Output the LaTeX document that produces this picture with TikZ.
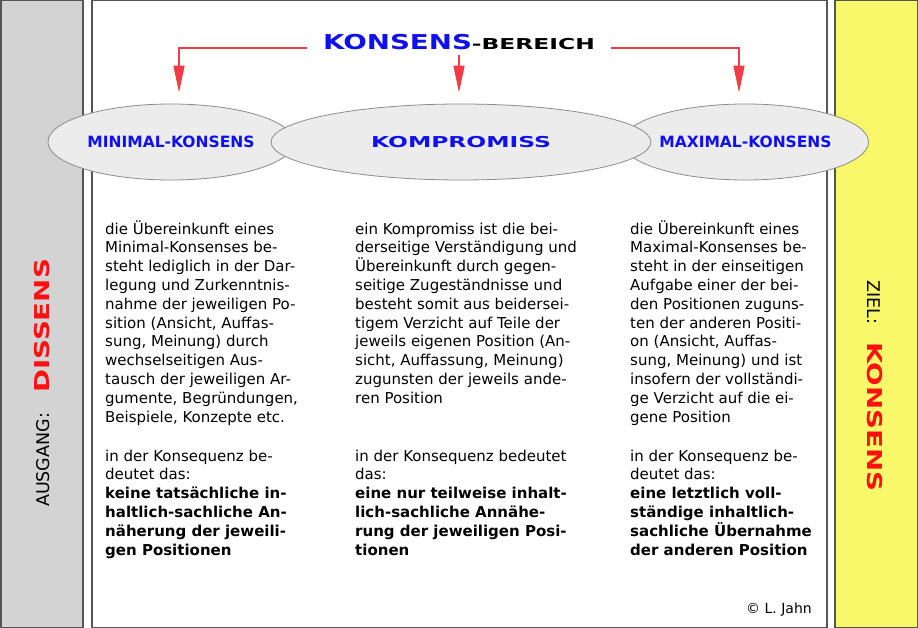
\documentclass[tikz,border=0pt]{standalone}
\usepackage{fontspec}
\setmainfont{DejaVu Sans}
\newfontfamily\breitfont[FakeStretch=1.35]{DejaVu Sans}
\newfontfamily\extrabreitfont[FakeStretch=1.56]{DejaVu Sans}
\usetikzlibrary{positioning,arrows.meta,shapes.geometric}
\definecolor{rahmen}{HTML}{555555}
\definecolor{grau}{HTML}{D3D3D3}
\definecolor{gelb}{HTML}{F8F86A}
\definecolor{ovalbg}{HTML}{ECECEC}
\definecolor{ovalrand}{HTML}{8C8C8C}
\definecolor{blau}{HTML}{1010EE}
\definecolor{signalrot}{HTML}{FF1010}
\definecolor{pfeilrot}{HTML}{F03C46}

\begin{document}
\begin{tikzpicture}[
    x=1pt,y=-1pt,
    >={Triangle[length=27pt,width=11pt]},
    balken/.style={draw=rahmen,line width=1.5pt},
    oval/.style={
        ellipse,
        draw=ovalrand,
        fill=ovalbg,
        line width=0.8pt,
        minimum height=76pt,
        inner sep=0pt,
        text=blau,
    },
    ovaltext/.style={font=\fontsize{15.5}{18}\selectfont\bfseries},
    fliess/.style={anchor=base west,align=left,inner sep=0pt,font=\fontsize{15}{18.8}\selectfont},
    seite/.style={font=\fontsize{17.5}{20}\selectfont,inner sep=0pt},
    pfeil/.style={->,draw=pfeilrot,line width=1.5pt,shorten >=11pt},
]
\useasboundingbox (0,0) rectangle (918,628);

% === Bars and main box ===
\filldraw[balken,fill=grau] (0.75,0.75) rectangle (83,627.25);
\filldraw[balken,fill=white] (92,0.75) rectangle (827,627.25);
\filldraw[balken,fill=gelb] (835,0.75) rectangle (917.25,627.25);

% === Side labels ===
\node[seite,rotate=90] (ausgang) at (42,383) {AUSGANG:\hspace*{20pt}{\breitfont\bfseries\fontsize{20.5}{24}\selectfont\color{signalrot}DISSENS}};
\node[seite,rotate=-90] (ziel) at (875,386) {ZIEL:\hspace*{18pt}{\breitfont\bfseries\fontsize{20.5}{24}\selectfont\color{signalrot}KONSENS}};

% === Title ===
\node[anchor=base,inner xsep=16pt,inner ysep=5pt] (title) at (459,50)
    {{\breitfont\bfseries\fontsize{20.5}{24}\selectfont\color{blau}KONSENS}{\extrabreitfont\bfseries\fontsize{15}{18}\selectfont-BEREICH}};

% === Ellipses ===
\node[oval,minimum width=246pt,ovaltext] (mini) at (171,142) {MINIMAL-KONSENS};
\node[oval,minimum width=246pt,ovaltext] (maxi) at (745.5,142) {MAXIMAL-KONSENS};
\node[oval,minimum width=380pt] (kompr) at (461,142)
    {\extrabreitfont\bfseries\fontsize{15}{18}\selectfont KOMPROMISS};

% === Arrows ===
\draw[pfeil] ([yshift=2pt]title.base west) -| ([xshift=8pt]mini.north);
\draw[pfeil] (title.south) -- (title.south |- kompr.north);
\draw[pfeil] ([yshift=2pt]title.base east) -| ([xshift=-6.5pt]maxi.north);

% === Column texts (placed by their last line) ===
\node[fliess] (minitext) at (105,422) {
    die Übereinkunft eines\\
    Minimal-Konsenses be-\\
    steht lediglich in der Dar-\\
    legung und Zurkenntnis-\\
    nahme der jeweiligen Po-\\
    sition (Ansicht, Auffas-\\
    sung, Meinung) durch\\
    wechselseitigen Aus-\\
    tausch der jeweiligen Ar-\\
    gumente, Begründungen,\\
    Beispiele, Konzepte etc.
};
\node[fliess] (minifolge) at (105,555) {
    in der Konsequenz be-\\
    deutet das:\\
    \textbf{keine tatsächliche in-}\\
    \textbf{haltlich-sachliche An-}\\
    \textbf{näherung der jeweili-}\\
    \textbf{gen Positionen}
};

\node[fliess] (komprtext) at (355,403.2) {
    ein Kompromiss ist die bei-\\
    derseitige Verständigung und\\
    Übereinkunft durch gegen-\\
    seitige Zugeständnisse und\\
    besteht somit aus beidersei-\\
    tigem Verzicht auf Teile der\\
    jeweils eigenen Position (An-\\
    sicht, Auffassung, Meinung)\\
    zugunsten der jeweils ande-\\
    ren Position
};
\node[fliess] (komprfolge) at (355,555) {
    in der Konsequenz bedeutet\\
    das:\\
    \textbf{eine nur teilweise inhalt-}\\
    \textbf{lich-sachliche Annähe-}\\
    \textbf{rung der jeweiligen Posi-}\\
    \textbf{tionen}
};

\node[fliess] (maxitext) at (630,422) {
    die Übereinkunft eines\\
    Maximal-Konsenses be-\\
    steht in der einseitigen\\
    Aufgabe einer der bei-\\
    den Positionen zuguns-\\
    ten der anderen Positi-\\
    on (Ansicht, Auffas-\\
    sung, Meinung) und ist\\
    insofern der vollständi-\\
    ge Verzicht auf die ei-\\
    gene Position
};
\node[fliess] (maxifolge) at (630,555) {
    in der Konsequenz be-\\
    deutet das:\\
    \textbf{eine letztlich voll-}\\
    \textbf{ständige inhaltlich-}\\
    \textbf{sachliche Übernahme}\\
    \textbf{der anderen Position}
};

% === Copyright ===
\node[anchor=base east,inner sep=0pt,font=\fontsize{14}{16}\selectfont] (copy) at (812,613) {© L. Jahn};

\end{tikzpicture}
\end{document}
